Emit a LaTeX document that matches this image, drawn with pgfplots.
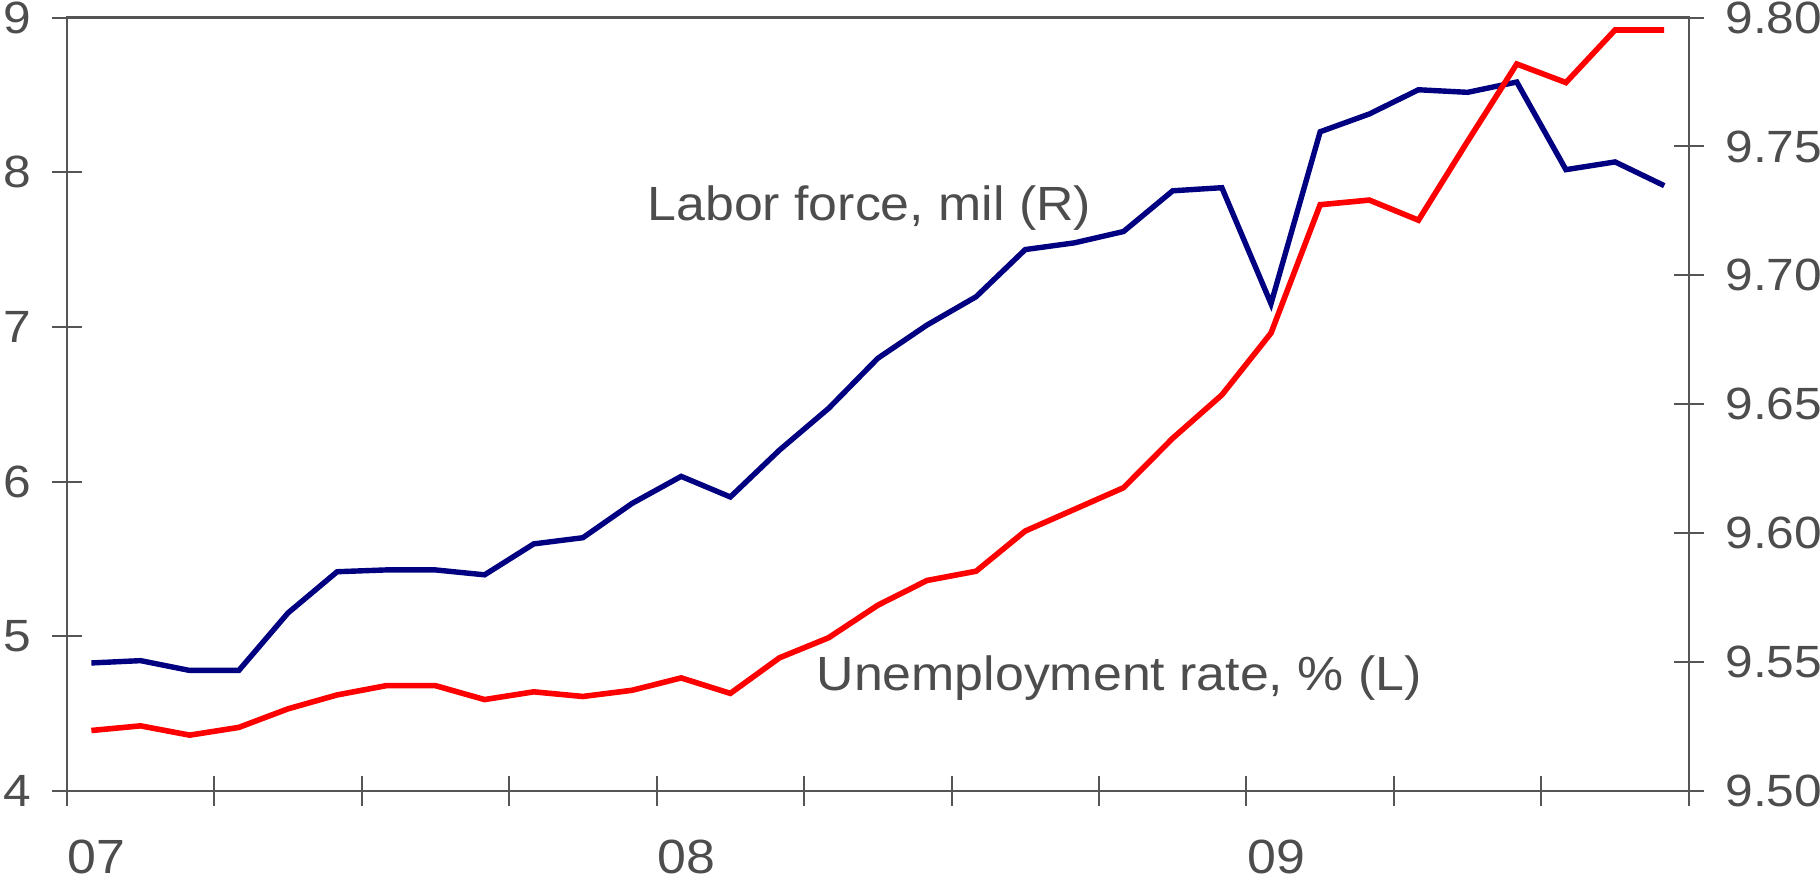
\documentclass[border=0pt]{standalone}
\usepackage{fontspec}
\setmainfont{Liberation Sans}
\newfontfamily\widefont[FakeStretch=1.08]{Liberation Sans}
\newfontfamily\tickfont[FakeStretch=1.1]{Liberation Sans}
\usepackage{pgfplots}
\pgfplotsset{compat=1.18}

\definecolor{axisgray}{RGB}{85,85,85}
\definecolor{textgray}{RGB}{77,77,77}
\definecolor{lfblue}{RGB}{0,0,128}
\definecolor{urred}{RGB}{255,0,0}

% monthly, Jan 2007 .. Sep 2009 (x = months since Jan 2007, mid-month)
\pgfplotstableread{
x     ur     lf
0.5   4.39   9.5496
1.5   4.42   9.5505
2.5   4.36   9.5467
3.5   4.41   9.5467
4.5   4.53   9.5690
5.5   4.62   9.5850
6.5   4.68   9.5857
7.5   4.68   9.5857
8.5   4.59   9.5838
9.5   4.64   9.5958
10.5  4.61   9.5982
11.5  4.65   9.6115
12.5  4.73   9.6220
13.5  4.63   9.6140
14.5  4.86   9.6322
15.5  4.99   9.6484
16.5  5.20   9.6678
17.5  5.36   9.6807
18.5  5.42   9.6917
19.5  5.68   9.7100
20.5  5.82   9.7126
21.5  5.96   9.7170
22.5  6.28   9.7328
23.5  6.56   9.7340
24.5  6.96   9.6890
25.5  7.79   9.7557
26.5  7.82   9.7626
27.5  7.69   9.7720
28.5  8.20   9.7710
29.5  8.70   9.7750
30.5  8.58   9.7410
31.5  8.92   9.7440
32.5  8.92   9.7348
}\data

\pgfplotsset{
  common/.style={
    scale only axis,
    width=405.5pt, height=193.3pt,
    at={(0,0)}, anchor=south west,
    xmin=0, xmax=33,
    axis line style={axisgray, line width=0.6pt},
    tick align=center,
    major tick length=7.5pt,
    tick style={axisgray, line width=0.5pt},
    /pgf/number format/assume math mode=true,
    every tick label/.append style={textgray},
  },
}

\begin{document}
\begin{tikzpicture}
  \useasboundingbox (-16.7pt,-22.05pt) rectangle (438.3pt,197.7pt);

  %%% labour force, right scale
  \begin{axis}[
    common,
    axis y line*=right,
    axis x line=none,
    ymin=9.5, ymax=9.8,
    ytick={9.5,9.55,9.6,9.65,9.7,9.75,9.8},
    yticklabel style={
      font=\tickfont\fontsize{11.3}{13}\selectfont,
      anchor=west, inner sep=0pt, xshift=5.2pt,
      /pgf/number format/.cd, fixed, fixed zerofill, precision=2},
    ]
    \addplot [lfblue, line width=1.35pt] table [x=x, y=lf] {\data};
  \end{axis}

  %%% unemployment rate, left scale
  \begin{axis}[
    common,
    ymin=4, ymax=9,
    ytick={4,5,...,9},
    xtick={0,3,...,33},
    xticklabels={07,,,,08,,,,09,,,,},
    xtick pos=bottom,
    ytick pos=left,
    yticklabel style={
      font=\tickfont\fontsize{11.3}{13}\selectfont,
      anchor=east, inner sep=0pt, xshift=-5pt},
    xticklabel style={
      font=\widefont\fontsize{12}{14}\selectfont,
      anchor=north west, inner sep=0pt, yshift=-8.3pt, xshift=0pt},
    ]
    \addplot [urred, line width=1.4pt] table [x=x, y=ur] {\data};

    \node [anchor=base west, inner sep=0pt, textgray,
           font=\widefont\fontsize{12}{14}\selectfont]
      at (axis cs:11.8,7.69) {Labor force, mil (R)};
    \node [anchor=base west, inner sep=0pt, textgray,
           font=\widefont\fontsize{12}{14}\selectfont]
      at (axis cs:15.24,4.65) {Unemployment rate, \% (L)};
  \end{axis}
\end{tikzpicture}
\end{document}
